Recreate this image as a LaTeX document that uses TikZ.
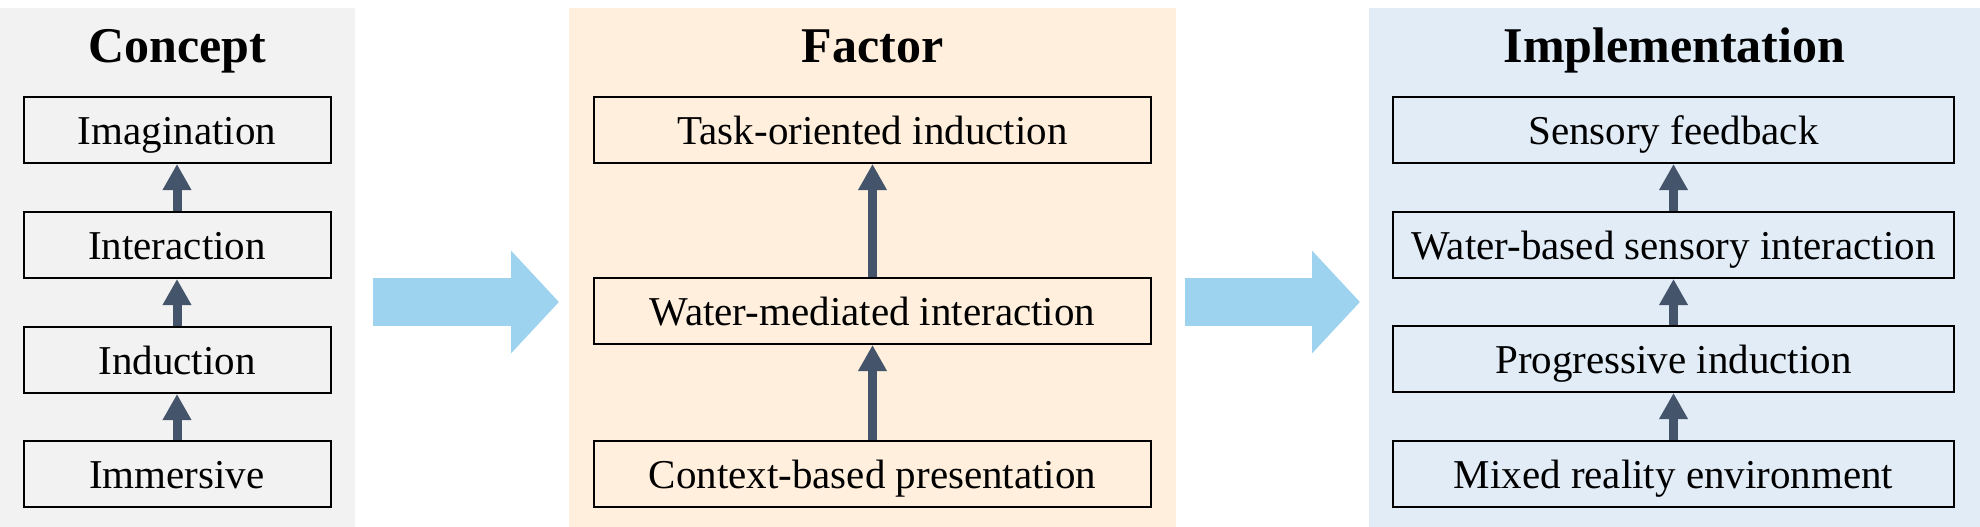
\documentclass[tikz,border=0pt]{standalone}
\usepackage{fontspec}
\setmainfont{Liberation Serif}
\usetikzlibrary{arrows.meta}
\definecolor{conceptbg}{HTML}{F2F2F2}
\definecolor{factorbg}{HTML}{FFEFDC}
\definecolor{implbg}{HTML}{E2ECF7}
\definecolor{stepcol}{HTML}{44546A}
\definecolor{flowcol}{HTML}{9DD3EE}
\tikzset{
  item/.style={draw, line width=2pt, minimum height=66pt, inner sep=0pt,
    text height=28pt, text depth=0pt, font=\fontsize{41}{49}\selectfont},
  head/.style={anchor=base, font=\fontsize{50}{60}\selectfont\bfseries},
  up/.style={-{Triangle[width=27pt,length=26pt]}, line width=9pt, stepcol},
  flow/.style={-{Triangle[width=100pt,length=48pt]}, line width=48pt, flowcol},
}
\begin{document}
\begin{tikzpicture}[x=1pt,y=-1pt]
      \useasboundingbox (0,0) rectangle (1980,527);
      % panels
      \fill[conceptbg] (0,8) rectangle (355,527);
      \fill[factorbg] (569,8) rectangle (1176,527);
      \fill[implbg] (1369,8) rectangle (1980,527);
      \draw
        (177.5,63) node[head] (ch){Concept}
        (872.5,63) node[head] (fh){Factor}
        (1674.5,63) node[head] (ih){Implementation};
      % concept
      \draw
        (177,130) node[item, minimum width=307pt] (c4){Imagination}
        (177,245) node[item, minimum width=307pt] (c3){Interaction}
        (177,360) node[item, minimum width=307pt] (c2){Induction}
        (177,474) node[item, minimum width=307pt] (c1){Immersive};
      % factor
      \draw
        (872.5,130) node[item, minimum width=557pt] (f3){Task-oriented induction}
        (872.5,311) node[item, minimum width=557pt] (f2){Water-mediated interaction}
        (872.5,474) node[item, minimum width=557pt] (f1){Context-based presentation};
      % implementation
      \draw
        (1673.5,130) node[item, minimum width=561pt] (i4){Sensory feedback}
        (1673.5,245) node[item, minimum width=561pt] (i3){Water-based sensory interaction}
        (1673.5,359) node[item, minimum width=561pt] (i2){Progressive induction}
        (1673.5,474) node[item, minimum width=561pt] (i1){Mixed reality environment};
      \coordinate (a1) at (372.5,302);
      \coordinate (b1) at (559,302);
      \coordinate (a2) at (1184.5,302);
      \coordinate (b2) at (1360,302);
      \begin{scope}[up]
        \draw (c1) to (c2);
        \draw (c2) to (c3);
        \draw (c3) to (c4);
        \draw (f1) to (f2);
        \draw (f2) to (f3);
        \draw (i1) to (i2);
        \draw (i2) to (i3);
        \draw (i3) to (i4);
      \end{scope}
      \draw[flow] (a1) to (b1);
      \draw[flow] (a2) to (b2);
    \end{tikzpicture}
\end{document}
